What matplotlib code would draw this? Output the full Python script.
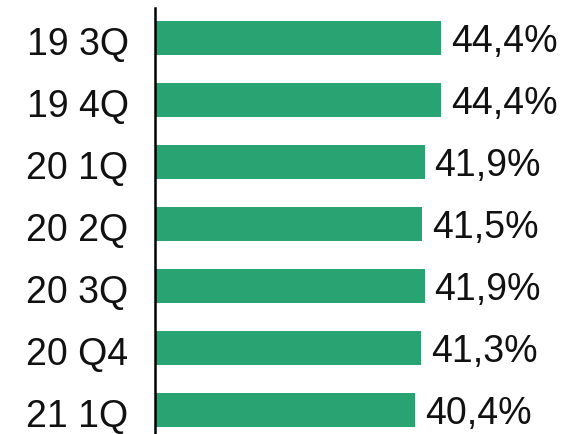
import matplotlib.pyplot as plt
from matplotlib.transforms import ScaledTranslation

categories = ["19 3Q", "19 4Q", "20 1Q", "20 2Q", "20 3Q", "20 Q4", "21 1Q"]
values = [44.4, 44.4, 41.9, 41.5, 41.9, 41.3, 40.4]
labels = ["44,4%", "44,4%", "41,9%", "41,5%", "41,9%", "41,3%", "40,4%"]

plt.rcParams['font.family'] = ['Liberation Sans', 'DejaVu Sans']

fig = plt.figure(figsize=(5.8, 4.35), dpi=100)
# axes placed in pixel terms: left edge at x=155, top at y=9
ax = fig.add_axes([155 / 580, 0, 425 / 580, (435 - 9) / 435])

pos = list(range(len(categories)))
ax.barh(pos, values, height=0.55, color='#2AA373')

for p, v, lab in zip(pos, values, labels):
    ax.annotate(lab, (v, p), xytext=(7, -2), textcoords='offset points',
                va='center', ha='left', fontsize=27, color='#111111')

ax.set_xlim(0, 66)
ax.set_ylim(6.38, -0.48)
ax.set_yticks(pos)
ax.set_yticklabels(categories, fontsize=27, color='#111111')
ax.tick_params(axis='y', length=0, pad=19)
ax.set_xticks([])

# nudge category labels down a touch
shift = ScaledTranslation(0, -1.5 / 72, fig.dpi_scale_trans)
for t in ax.get_yticklabels():
    t.set_transform(t.get_transform() + shift)

for side in ['top', 'right', 'bottom']:
    ax.spines[side].set_visible(False)
ax.spines['left'].set_linewidth(1.8)
ax.spines['left'].set_color('black')

fig.savefig('out.png', dpi=100)
